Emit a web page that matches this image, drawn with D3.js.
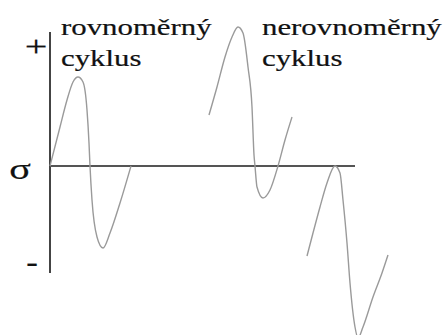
<!DOCTYPE html>
<html>
<head>
<meta charset="utf-8">
<script src="https://cdn.jsdelivr.net/npm/d3@7"></script>
<style>
  body { margin: 0; background: #fff; }
  svg { display: block; }
  .lbl { font-family: "Liberation Serif", "Times New Roman", serif; fill: #111; stroke: #111; stroke-width: 0.2px; }
</style>
</head>
<body>
<svg width="445" height="335"></svg>
<script>
// time (t) and stress (sigma, relative)
var uniformT     = [0, 10, 17, 23, 28, 33, 37, 39, 40, 42, 47, 53, 60, 70, 81];
var uniformSigma = [0, 0.39, 0.66, 0.84, 0.89, 0.84, 0.56, 0.23, 0, -0.34, -0.71, -0.82, -0.67, -0.37, 0];

var nonuni1T     = [159, 167, 175, 182, 188, 193, 198, 202, 204, 205, 207, 213, 220, 228, 235, 242];
var nonuni1Sigma = [0.51, 0.79, 1.09, 1.29, 1.39, 1.33, 0.99, 0.59, 0.11, 0, -0.21, -0.32, -0.24, 0, 0.26, 0.49];

var nonuni2T     = [257, 263, 270, 277, 285, 290, 293, 297, 300, 305, 308, 313, 323, 332, 338];
var nonuni2Sigma = [-0.90, -0.67, -0.41, -0.17, 0, -0.07, -0.34, -0.77, -1.17, -1.61, -1.72, -1.61, -1.31, -1.07, -0.89];

var tRange     = [0, 305];      // horizontal axis extent
var sigmaRange = [-1.07, 1.34]; // vertical axis extent
var cycleLabels = [["rovnoměrný", "cyklus"], ["nerovnoměrný", "cyklus"]];

var svg = d3.select('svg');

var x = d3.scaleLinear().domain([0, 305]).range([50, 355]);
var y = d3.scaleLinear().domain([-1, 1]).range([266, 66]);

// the original picture is stretched sideways, so is its lettering
var stretch = 1.34;

function pts(ts, ss) {
    return ts.map(function(t, i) { return [t, ss[i]]; });
}

var line = d3.line()
    .x(function(d) { return x(d[0]); })
    .y(function(d) { return y(d[1]); })
    .curve(d3.curveMonotoneX);

// axes
svg.append('line')
    .attr('x1', x(0)).attr('x2', x(0))
    .attr('y1', y(sigmaRange[1])).attr('y2', y(sigmaRange[0]))
    .attr('stroke', '#444').attr('stroke-width', 2);

svg.append('line')
    .attr('x1', x(tRange[0])).attr('x2', x(tRange[1]))
    .attr('y1', y(0)).attr('y2', y(0))
    .attr('stroke', '#555').attr('stroke-width', 2);

// stress curves
[pts(uniformT, uniformSigma), pts(nonuni1T, nonuni1Sigma), pts(nonuni2T, nonuni2Sigma)]
    .forEach(function(d) {
        svg.append('path')
            .attr('d', line(d))
            .attr('fill', 'none')
            .attr('stroke', '#9a9a9a')
            .attr('stroke-width', 1.4);
    });

function label(s, px, py, size, weight) {
    return svg.append('text').attr('class', 'lbl')
        .attr('transform', 'translate(' + [px, py] + ') scale(' + stretch + ',1)')
        .style('font-size', size + 'px')
        .style('font-weight', weight || 'normal')
        .text(s);
}

// axis symbols
label('+', 36, 56, 30).attr('text-anchor', 'middle');
label('σ', 20, 179, 30).attr('text-anchor', 'middle');
label('-', 32, 271, 26, 'bold').attr('text-anchor', 'middle');

// cycle labels
var labelX = [61, 262];
cycleLabels.forEach(function(lines, i) {
    lines.forEach(function(s, j) {
        label(s, labelX[i], 35 + j * 31, 23);
    });
});
</script>
</body>
</html>
